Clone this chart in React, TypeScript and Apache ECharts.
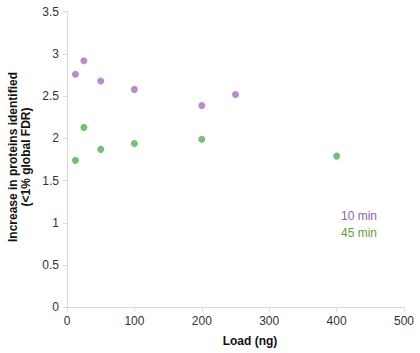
import React, { useEffect, useRef } from "react";
import * as echarts from "echarts";

const loads10: number[] = [12.5, 25, 50, 100, 200, 250];
const values10: number[] = [2.76, 2.92, 2.68, 2.58, 2.39, 2.52];
const loads45: number[] = [12.5, 25, 50, 100, 200, 400];
const values45: number[] = [1.74, 2.13, 1.87, 1.94, 1.99, 1.79];
const seriesNames: string[] = ["10 min", "45 min"];
const xTitle = "Load (ng)";
const yTitle = ["Increase in proteins identified", "(<1% global FDR)"];

export default function App() {
  const ref = useRef<HTMLDivElement>(null);
  useEffect(() => {
    if (!ref.current) return;
    const chart = echarts.init(ref.current, null, { renderer: "svg" });
    const font = "Liberation Sans, Arial, sans-serif";
    chart.setOption({
      animation: false,
      grid: { left: 67, right: 16, top: 11.7, bottom: 45.7, containLabel: false },
      xAxis: {
        type: "value",
        min: 0,
        max: 500,
        interval: 100,
        axisLine: { show: true, lineStyle: { color: "#d9d9d9" } },
        axisTick: { show: true, length: 4, lineStyle: { color: "#d9d9d9" } },
        axisLabel: { color: "#333", fontSize: 12, fontFamily: font, margin: 8 },
        splitLine: { show: false },
      },
      yAxis: {
        type: "value",
        min: 0,
        max: 3.5,
        interval: 0.5,
        axisLine: { show: true, lineStyle: { color: "#d9d9d9" } },
        axisTick: { show: true, length: 4, lineStyle: { color: "#d9d9d9" } },
        axisLabel: { color: "#333", fontSize: 12, fontFamily: font, margin: 8 },
        splitLine: { show: false },
      },
      series: [
        {
          name: seriesNames[0],
          type: "scatter",
          symbolSize: 7,
          itemStyle: { color: "#a66fc4" },
          data: loads10.map((x, i) => [x, values10[i]]),
        },
        {
          name: seriesNames[1],
          type: "scatter",
          symbolSize: 7,
          itemStyle: { color: "#55ae55" },
          data: loads45.map((x, i) => [x, values45[i]]),
        },
      ],
      graphic: [
        {
          type: "text",
          x: 250,
          y: 341,
          style: {
            text: xTitle,
            font: `bold 12px ${font}`,
            fill: "#111",
            align: "center",
            verticalAlign: "middle",
          },
        },
        {
          type: "text",
          x: 13,
          y: 157,
          rotation: Math.PI / 2,
          style: {
            text: yTitle[0],
            font: `bold 12px ${font}`,
            fill: "#111",
            align: "center",
            verticalAlign: "middle",
          },
        },
        {
          type: "text",
          x: 26,
          y: 157,
          rotation: Math.PI / 2,
          style: {
            text: yTitle[1],
            font: `bold 12px ${font}`,
            fill: "#111",
            align: "center",
            verticalAlign: "middle",
          },
        },
        {
          type: "text",
          x: 377,
          y: 216,
          style: {
            text: seriesNames[0],
            font: `12px ${font}`,
            fill: "#8b62b3",
            align: "right",
            verticalAlign: "middle",
          },
        },
        {
          type: "text",
          x: 377,
          y: 233,
          style: {
            text: seriesNames[1],
            font: `12px ${font}`,
            fill: "#6b9a3a",
            align: "right",
            verticalAlign: "middle",
          },
        },
      ],
    });
    return () => chart.dispose();
  }, []);
  return (
    <div
      ref={ref}
      style={{ position: "absolute", left: 0, top: 0, width: 420, height: 353 }}
    />
  );
}
